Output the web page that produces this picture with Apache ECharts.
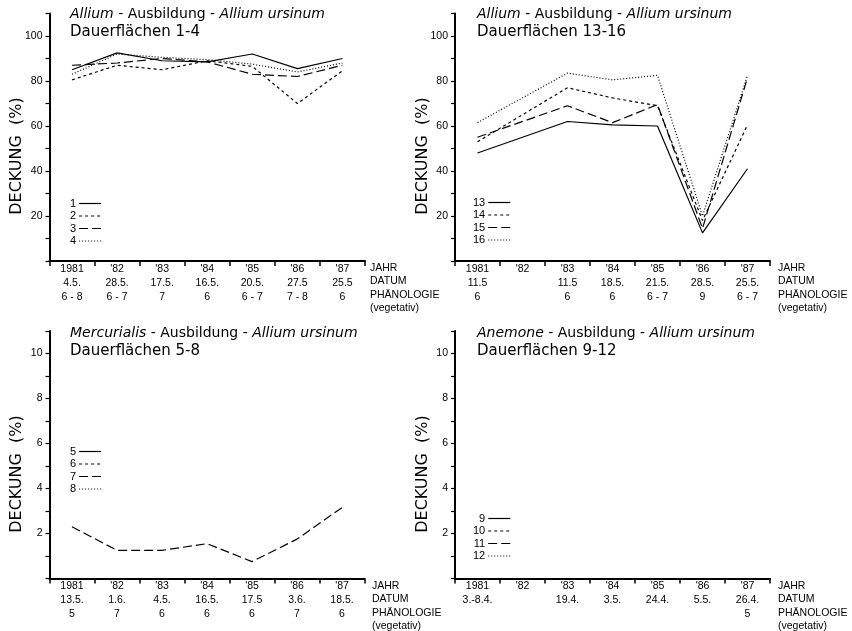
<!DOCTYPE html>
<html><head><meta charset="utf-8">
<script src="https://cdn.jsdelivr.net/npm/echarts@6/dist/echarts.min.js"></script>
<style>html,body{margin:0;padding:0;background:#fff}#c{width:852px;height:631px}</style>
</head><body><div id="c"></div>
<script>
const years = ['1981', "'82", "'83", "'84", "'85", "'86", "'87"];
const datesTL = ['4.5.', '28.5.', '17.5.', '16.5.', '20.5.', '27.5', '25.5'];
const phenTL = ['6 - 8', '6 - 7', '7', '6', '6 - 7', '7 - 8', '6'];
const datesTR = ['11.5', '', '11.5', '18.5.', '21.5.', '28.5.', '25.5.'];
const phenTR = ['6', '', '6', '6', '6 - 7', '9', '6 - 7'];
const datesBL = ['13.5.', '1.6.', '4.5.', '16.5.', '17.5', '3.6.', '18.5.'];
const phenBL = ['5', '7', '6', '6', '6', '7', '6'];
const datesBR = ['3.-8.4.', '', '19.4.', '3.5.', '24.4.', '5.5.', '26.4.'];
const phenBR = ['', '', '', '', '', '', '5'];

const s1 = [85, 92.5, 89, 88.5, 92, 85.5, 90];
const s2 = [80.5, 87, 85, 89, 86.5, 70, 84.5];
const s3 = [87, 88, 90, 88.5, 83, 82, 87];
const s4 = [83, 92, 90.5, 89.5, 87.5, 84, 88];

const s5 = [];
const s6 = [];
const s7 = [2.3, 1.25, 1.25, 1.55, 0.75, 1.75, 3.15];
const s8 = [];

const s9 = [];
const s10 = [];
const s11 = [];
const s12 = [];

const s13 = [48, null, 62, 60.5, 60, 12.5, 41];
const s14 = [53, null, 77, 72.5, 69, 18, 60.5];
const s15 = [55, null, 69, 61.5, 69.5, 14.5, 81.5];
const s16 = [61.5, null, 83.5, 80.5, 82.5, 20, 82.5];

const FONT = 'DejaVu Sans';
const LFONT = 'Liberation Sans';
const dashes = ['solid', [3, 3], [9, 4], [1, 2]];

const grids = [
  {left: 49.5, top: 13.5, width: 315.5, height: 247.5},
  {left: 455, top: 13.5, width: 315, height: 247.5},
  {left: 49.5, top: 331, width: 315, height: 247.5},
  {left: 455, top: 331, width: 315, height: 247.5}
];
const dateSets = [datesTL, datesTR, datesBL, datesBR];
const phenSets = [phenTL, phenTR, phenBL, phenBR];

const xAxes = grids.map((g, i) => ({
  type: 'category', gridIndex: i, data: years, boundaryGap: true,
  axisLine: {lineStyle: {color: '#000', width: 2}},
  axisTick: {show: true, length: 5, inside: false, lineStyle: {color: '#000', width: 1.5}},
  axisLabel: {
    color: '#000', fontFamily: LFONT, fontSize: 10.5, lineHeight: 14, margin: 1,
    interval: 0,
    formatter: (v, idx) => v + '\n' + (dateSets[i][idx] || ' ') + '\n' + (phenSets[i][idx] || ' ')
  },
  splitLine: {show: false}
}));

const yAxes = grids.map((g, i) => {
  const top = i < 2;
  return {
    type: 'value', gridIndex: i, min: 0, max: top ? 110 : 11, interval: top ? 10 : 1,
    axisLine: {show: true, lineStyle: {color: '#000', width: 2}},
    axisTick: {show: true, length: 4, inside: false, lineStyle: {color: '#000', width: 1.2}},
    axisLabel: {
      color: '#000', fontFamily: LFONT, fontSize: 10.5, margin: 7,
      formatter: v => {
        if (top) return (v > 0 && v <= 100 && v % 20 === 0) ? String(v) : '';
        return (v > 0 && v <= 10 && v % 2 === 0) ? String(v) : '';
      }
    },
    splitLine: {show: false}
  };
});

function mk(name, data, gi, dash) {
  return {
    name: name, type: 'line', xAxisIndex: gi, yAxisIndex: gi, data: data,
    symbol: 'none', connectNulls: true, silent: true, color: '#000',
    itemStyle: {color: '#000', opacity: 0},
    lineStyle: {color: '#000', width: 1.2, type: dash}
  };
}
const series = [
  mk('1', s1, 0, dashes[0]), mk('2', s2, 0, dashes[1]), mk('3', s3, 0, dashes[2]), mk('4', s4, 0, dashes[3]),
  mk('13', s13, 1, dashes[0]), mk('14', s14, 1, dashes[1]), mk('15', s15, 1, dashes[2]), mk('16', s16, 1, dashes[3]),
  mk('5', s5, 2, dashes[0]), mk('6', s6, 2, dashes[1]), mk('7', s7, 2, dashes[2]), mk('8', s8, 2, dashes[3]),
  mk('9', s9, 3, dashes[0]), mk('10', s10, 3, dashes[1]), mk('11', s11, 3, dashes[2]), mk('12', s12, 3, dashes[3])
];

function legend(names, left, top) {
  return {
    data: names, orient: 'vertical', left: left, top: top, align: 'right',
    itemWidth: 22, itemHeight: 10, itemGap: 1.5, padding: 0, selectedMode: false,
    itemStyle: {opacity: 0, color: '#000', borderWidth: 0},
    lineStyle: {width: 1.2, color: '#000'},
    textStyle: {color: '#000', fontFamily: LFONT, fontSize: 11, padding: [0, -2, 0, 0]},
    formatter: n => (n.length < 2 && names.some(m => m.length > 1)) ? '\u2007' + n : n,
    inactiveColor: '#000'
  };
}

const titleRich = {
  i: {fontStyle: 'italic', fontWeight: 'normal', fontSize: 14, fontFamily: FONT, color: '#000', lineHeight: 18},
  n: {fontWeight: 'normal', fontSize: 14, fontFamily: FONT, color: '#000', lineHeight: 18},
  d: {fontWeight: 'normal', fontSize: 15, fontFamily: FONT, color: '#000', lineHeight: 18}
};
function ttl(genus, plots, left, top) {
  return {
    text: '{i|' + genus + '}{n| - Ausbildung - }{i|Allium ursinum}\n{d|Dauerflächen ' + plots + '}',
    left: left, top: top, padding: 0,
    textStyle: {rich: titleRich, fontSize: 14, fontWeight: 'normal', fontFamily: FONT, color: '#000'}
  };
}

function yName(x, y) {
  return {type: 'text', x: x, y: y, rotation: Math.PI / 2,
    style: {text: 'DECKUNG  (%)', fontFamily: FONT, fontSize: 16, fill: '#000', align: 'center', verticalAlign: 'middle'}};
}
function rightLab(x, y) {
  return {type: 'text', x: x, y: y,
    style: {text: 'JAHR\nDATUM\nPHÄNOLOGIE\n(vegetativ)', fontFamily: LFONT, fontSize: 10.5, lineHeight: 13.3,
      fill: '#000', align: 'left', verticalAlign: 'top'}};
}

const option = {
  animation: false,
  backgroundColor: '#fff',
  color: ['#000'],
  title: [
    ttl('Allium', '1-4', 70, 5),
    ttl('Allium', '13-16', 477, 5),
    ttl('Mercurialis', '5-8', 70, 324),
    ttl('Anemone', '9-12', 477, 324)
  ],
  legend: [
    legend(['1', '2', '3', '4'], 70, 198),
    legend(['13', '14', '15', '16'], 473, 197),
    legend(['5', '6', '7', '8'], 70, 446),
    legend(['9', '10', '11', '12'], 473, 513)
  ],
  grid: grids,
  xAxis: xAxes,
  yAxis: yAxes,
  series: series,
  graphic: [
    yName(17, 156), yName(423, 156), yName(17, 474), yName(423, 474),
    rightLab(370, 261.5), rightLab(778, 261.5), rightLab(372, 579.5), rightLab(778, 579.5)
  ]
};
const chart = echarts.init(document.getElementById('c'), null, {renderer: 'canvas'});
chart.setOption(option);
</script>
</body></html>
